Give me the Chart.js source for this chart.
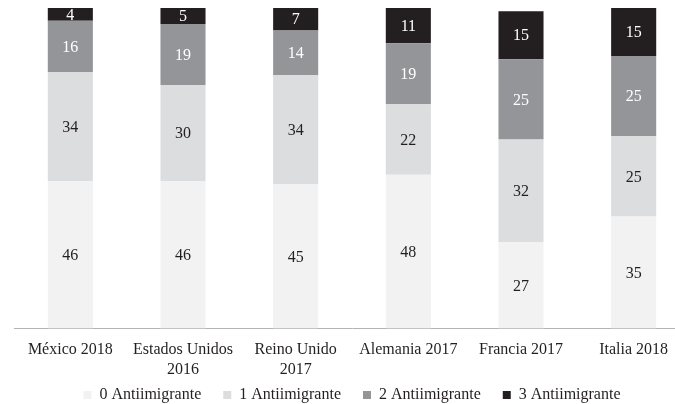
<!DOCTYPE html>
<html>
<head>
<meta charset="utf-8">
<script src="https://cdn.jsdelivr.net/npm/chart.js@4"></script>
<style>
	html, body { margin: 0; padding: 0; background: #fff; overflow: hidden; }
	#wrap { width: 690px; height: 404px; position: relative; }
</style>
</head>
<body>
<div id="wrap"><canvas id="chartCanvas"></canvas></div>
<script>
const categories = ["México 2018", ["Estados Unidos", "2016"], ["Reino Unido", "2017"], "Alemania 2017", "Francia 2017", "Italia 2018"]
const seriesNames = ["0 Antiimigrante", "1 Antiimigrante", "2 Antiimigrante", "3 Antiimigrante"]
const anti0 = [46, 46, 45, 48, 27, 35]
const anti1 = [34, 30, 34, 22, 32, 25]
const anti2 = [16, 19, 14, 19, 25, 25]
const anti3 = [4, 5, 7, 11, 15, 15]

const colors = ['#f2f2f3', '#dcdddf', '#939598', '#231f20']
const labelColors = ['#231f20', '#231f20', '#ffffff', '#ffffff']
const serif = '"Liberation Serif", "Times New Roman", serif'

// draws the value in the middle of every segment
const segmentLabels = {
	id: 'segmentLabels',
	afterDatasetsDraw(chart) {
		const ctx = chart.ctx
		ctx.save()
		ctx.font = "16px " + serif
		ctx.textAlign = 'center'
		ctx.textBaseline = 'middle'
		chart.data.datasets.forEach((ds, i) => {
			let meta = chart.getDatasetMeta(i)
			meta.data.forEach((bar, j) => {
				let mid = (bar.y + bar.base) / 2
				ctx.fillStyle = labelColors[i]
				ctx.fillText(ds.data[j], bar.x, mid + 1)
			})
		})
		ctx.restore()
	}
}

// pull the legend up, into its own top padding
const legendShift = {
	id: 'legendShift',
	afterLayout(chart) {
		let lg = chart.legend
		lg.top -= 26
		lg.bottom -= 26
	}
}

let canvas = document.getElementById("chartCanvas")
new Chart(canvas, {
	type: 'bar',
	data: {
		labels: categories,
		datasets: [anti0, anti1, anti2, anti3].map((d, i) => ({
			label: seriesNames[i],
			data: d,
			backgroundColor: colors[i],
			borderWidth: 0,
			barPercentage: 0.4,
			categoryPercentage: 1.0,
		})),
	},
	options: {
		animation: false,
		responsive: true,
		maintainAspectRatio: false,
		layout: {
			padding: { left: 14, right: 0, top: 8, bottom: -35 },
		},
		plugins: {
			legend: {
				position: 'bottom',
				labels: {
					boxWidth: 8,
					boxHeight: 8,
					padding: 22,
					color: '#231f20',
					font: { family: serif, size: 16 },
				},
			},
			tooltip: { enabled: false },
		},
		scales: {
			x: {
				stacked: true,
				grid: { display: false, drawTicks: false },
				border: { display: true, color: '#b3b3b3', width: 1 },
				ticks: {
					color: '#231f20',
					padding: 12,
					maxRotation: 0,
					autoSkip: false,
					font: { family: serif, size: 16, lineHeight: 1.2 },
				},
			},
			y: {
				stacked: true,
				display: false,
				min: 0,
				max: 100,
			},
		},
	},
	plugins: [segmentLabels, legendShift],
})
</script>
</body>
</html>
